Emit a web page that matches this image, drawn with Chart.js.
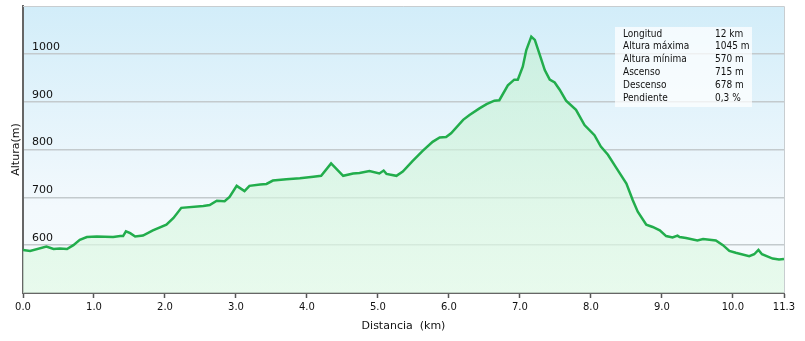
<!DOCTYPE html>
<html>
<head>
<meta charset="utf-8">
<script src="https://cdn.jsdelivr.net/npm/chart.js@4.4.1/dist/chart.umd.min.js"></script>
<style>
  html, body { margin: 0; padding: 0; background: #fff; }
  #wrap { width: 805px; height: 341px; }
</style>
</head>
<body>
<div id="wrap"><canvas id="perfil" width="805" height="341"></canvas></div>
<script>
// DATOS DEL PERFIL (km, m)
const distancias = [0.00, 0.10, 0.33, 0.43, 0.52, 0.62, 0.71, 0.80, 0.90, 1.04, 1.27, 1.37, 1.41, 1.45, 1.51, 1.58, 1.69, 1.83, 2.02, 2.12,
  2.23, 2.54, 2.63, 2.73, 2.84, 2.91, 3.01, 3.12, 3.19, 3.34, 3.43, 3.52, 3.71, 3.90, 4.09, 4.20, 4.34, 4.51, 4.65, 4.74,
  4.88, 5.02, 5.08, 5.12, 5.26, 5.35, 5.49, 5.63, 5.77, 5.87, 5.96, 6.03, 6.20, 6.29, 6.43, 6.53, 6.64, 6.71, 6.83, 6.92,
  6.97, 7.04, 7.09, 7.16, 7.21, 7.28, 7.35, 7.42, 7.49, 7.56, 7.65, 7.79, 7.91, 8.05, 8.14, 8.24, 8.36, 8.50, 8.59, 8.66,
  8.78, 8.87, 8.97, 9.06, 9.15, 9.22, 9.25, 9.34, 9.50, 9.58, 9.76, 9.86, 9.95, 10.04, 10.23, 10.30, 10.36, 10.41, 10.56, 10.65, 10.72];
const alturas = [590, 588, 597, 592, 593, 592, 600, 611, 617, 618, 617, 619, 619, 629, 625, 618, 620, 631, 643, 657,
  678, 682, 684, 693, 692, 701, 724, 713, 724, 727, 728, 735, 738, 740, 743, 745, 771, 745, 750, 751,
  755, 750, 756, 749, 745, 754, 776, 797, 816, 825, 826, 834, 862, 872, 886, 895, 902, 903, 934, 946,
  946, 973, 1008, 1036, 1029, 998, 966, 946, 940, 925, 902, 883, 851, 830, 806, 789, 761, 729, 694, 670,
  643, 638, 631, 619, 616, 620, 617, 615, 610, 613, 610, 600, 588, 584, 577, 581, 590, 581, 572, 570, 571];

const xTickValues = [0, 1, 2, 3, 4, 5, 6, 7, 8, 9, 10, 10.72];
const xTickLabels = ['0.0', '1.0', '2.0', '3.0', '4.0', '5.0', '6.0', '7.0', '8.0', '9.0', '10.0', '11.3'];
const yTickValues = [600, 700, 800, 900, 1000];

const statLabels = ['Longitud', 'Altura máxima', 'Altura mínima', 'Ascenso', 'Descenso', 'Pendiente'];
const statValues = ['12 km', '1045 m', '570 m', '715 m', '678 m', '0,3 %'];

// fondo del area + cuadro de datos
const fondoPlugin = {
  id: 'fondo',
  beforeDraw(chart) {
    const { ctx, chartArea: a } = chart;
    const g = ctx.createLinearGradient(0, a.top, 0, a.bottom);
    g.addColorStop(0, '#d2edf9');
    g.addColorStop(0.7, '#f3f9fd');
    g.addColorStop(1, '#f6fbfd');
    ctx.save();
    ctx.fillStyle = g;
    ctx.fillRect(a.left, a.top, a.right - a.left, a.bottom - a.top);
    ctx.restore();
  },
  afterDraw(chart) {
    const { ctx, chartArea: a } = chart;
    ctx.save();
    // borde arriba / derecha
    ctx.strokeStyle = '#c8cdd0';
    ctx.lineWidth = 1;
    ctx.beginPath();
    ctx.moveTo(a.left, a.top + 0.5);
    ctx.lineTo(a.right + 0.5, a.top + 0.5);
    ctx.lineTo(a.right + 0.5, a.bottom);
    ctx.stroke();

    // cuadro resumen
    const bx = 615, by = 27, bw = 137, bh = 80;
    ctx.fillStyle = 'rgba(255,255,255,0.72)';
    ctx.fillRect(bx, by, bw, bh);
    ctx.font = '10px "DejaVu Sans Condensed", "DejaVu Sans", sans-serif';
    ctx.fillStyle = '#111';
    ctx.textBaseline = 'middle';
    statLabels.forEach((lbl, i) => {
      const y = by + 7 + i * 12.8;
      ctx.fillText(lbl, bx + 8, y);
      ctx.fillText(statValues[i], bx + 100, y);
    });
    ctx.restore();
  }
};

const ctx = document.getElementById('perfil').getContext('2d');
new Chart(ctx, {
  type: 'line',
  data: {
    datasets: [{
      data: distancias.map((d, i) => ({ x: d, y: alturas[i] })),
      borderColor: '#22ad4c',
      borderWidth: 2.5,
      pointRadius: 0,
      tension: 0,
      fill: 'start',
      backgroundColor: c => {
        const a = c.chart.chartArea;
        if (!a) return 'rgba(200,240,215,0.5)';
        const g = c.chart.ctx.createLinearGradient(0, a.top, 0, a.bottom);
        g.addColorStop(0, 'rgba(190,238,208,0.6)');
        g.addColorStop(1, 'rgba(226,250,230,0.7)');
        return g;
      }
    }]
  },
  options: {
    responsive: false,
    animation: false,
    devicePixelRatio: 1,
    layout: { padding: { top: 6, right: 21, left: 0, bottom: 0 } },
    plugins: { legend: { display: false }, tooltip: { enabled: false } },
    scales: {
      x: {
        type: 'linear',
        min: 0,
        max: 10.72,
        afterBuildTicks: s => { s.ticks = xTickValues.map(v => ({ value: v })); },
        afterFit: s => { s.height = 48; },
        border: { color: '#666', width: 2 },
        grid: { drawOnChartArea: false, drawTicks: true, tickLength: 5, tickColor: '#555', tickWidth: 1.5 },
        ticks: {
          autoSkip: false,
          maxRotation: 0,
          padding: 3,
          color: '#111',
          font: { family: '"DejaVu Sans"', size: 10 },
          callback: (v, i) => xTickLabels[i]
        },
        title: {
          display: true,
          text: 'Distancia  (km)',
          color: '#111',
          font: { family: '"DejaVu Sans"', size: 11 },
          padding: { top: 0, bottom: 8 }
        }
      },
      y: {
        min: 500,
        max: 1100,
        afterBuildTicks: s => { s.ticks = yTickValues.map(v => ({ value: v })); },
        afterFit: s => { s.width = 23; s.paddingTop = 0; s.paddingBottom = 0; },
        border: { color: '#666', width: 2 },
        grid: { color: '#c3cacd', lineWidth: 1.5, drawTicks: false },
        ticks: {
          mirror: true,
          padding: 9,
          labelOffset: -7,
          color: '#111',
          font: { family: '"DejaVu Sans"', size: 11 },
          callback: v => String(v)
        },
        title: {
          display: true,
          text: 'Altura(m)',
          color: '#111',
          font: { family: '"DejaVu Sans"', size: 11 },
          padding: { top: 10, bottom: 0 }
        }
      }
    }
  },
  plugins: [fondoPlugin]
});
</script>
</body>
</html>
